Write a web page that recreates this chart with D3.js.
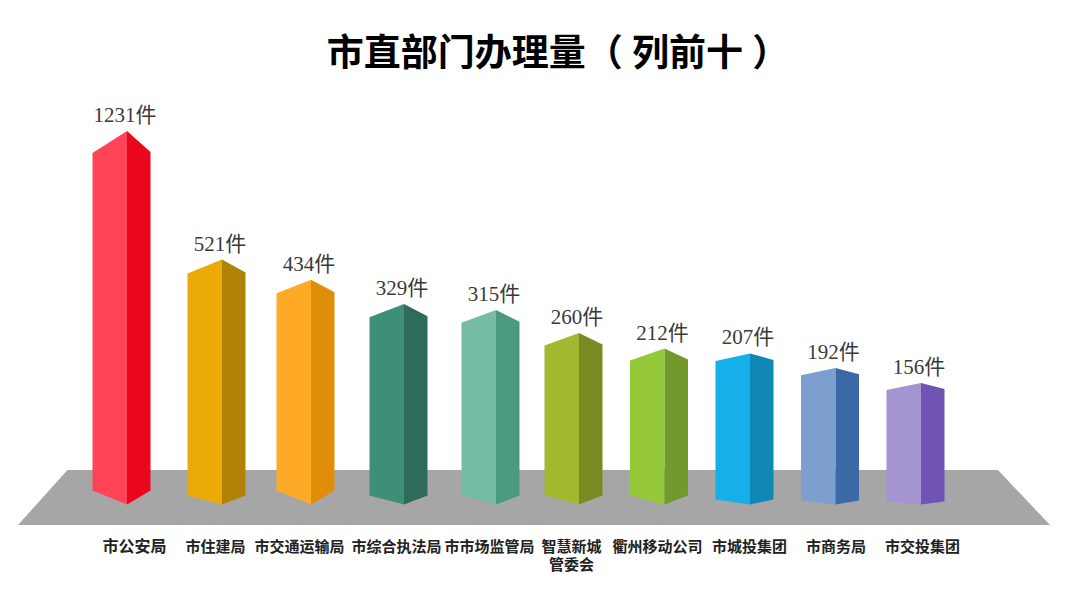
<!DOCTYPE html>
<html>
<head>
<meta charset="utf-8">
<script src="https://cdn.jsdelivr.net/npm/d3@7"></script>
<style>
    body { margin: 0; background: #fff; }
    svg { display: block; }
    text { font-family: "Liberation Serif", "Noto Sans CJK SC", serif; }
</style>
</head>
<body>
<svg width="1080" height="600"></svg>
<script>
var titleText = "市直部门办理量（ 列前十 ）";
var categories = ["市公安局", "市住建局", "市交通运输局", "市综合执法局", "市市场监管局", "智慧新城\n管委会", "衢州移动公司", "市城投集团", "市商务局", "市交投集团"];
var values = [1231, 521, 434, 329, 315, 260, 212, 207, 192, 156];
var valueUnit = "件";

var frontColors = ["#ff4458", "#ebaa07", "#ffaa26", "#3d8f78", "#75bba5", "#a3b82e", "#96c93a", "#15b0ea", "#7c9fcf", "#a494d0"];
var sideColors = ["#ea061c", "#b08205", "#e08e08", "#2e6b5a", "#4a9a82", "#7a8a22", "#71992b", "#1088b5", "#3a69a6", "#6f54b4"];

var svg = d3.select("svg");

// the original is a hand drawn infographic, bars are not proportional, so the y scale is piecewise
var y = d3.scaleLinear()
    .domain([156, 192, 212, 260, 329, 521, 1231])
    .range([383, 368, 348.5, 333, 304, 259.5, 131]);

// bar spacing is uneven too
var x = d3.scaleLinear()
    .domain([0, 1, 2, 3, 4, 5, 9])
    .range([127, 222, 311, 404, 496, 579, 921]);

var labelX = d3.scaleLinear()
    .domain([0, 1, 2, 3, 4, 5, 6, 7, 9])
    .range([134, 215, 299, 396, 489, 571, 657, 749, 922]);

// perspective of the top and bottom edges flattens to the right
var topDrop = d3.scaleLinear().domain([0, 1, 6, 7, 9]).range([22, 14, 12, 7.5, 7]);
var bottomDrop = d3.scaleLinear().domain([0, 1, 2, 3, 6, 7, 9]).range([14, 9, 14, 9, 9, 5, 3]);

var leftWidth = 34.5,
    rightWidth = 23.5,
    bottomY = 504.5;

// floor
svg.append("path")
    .attr("d", "M67.5,470L998,470L1050,525L18,525Z")
    .attr("fill", "#a6a6a6");

var bars = svg.selectAll("g.bar")
    .data(values)
    .enter().append("g")
    .attr("class", "bar");

bars.append("path")
    .attr("fill", function (d, i) { return frontColors[i]; })
    .attr("d", function (d, i) {
        var r = x(i);
        return "M" + (r - leftWidth) + "," + (y(d) + topDrop(i))
            + "L" + r + "," + y(d)
            + "L" + r + "," + bottomY
            + "L" + (r - leftWidth) + "," + (bottomY - bottomDrop(i)) + "Z";
    });

bars.append("path")
    .attr("fill", function (d, i) { return sideColors[i]; })
    .attr("d", function (d, i) {
        var r = x(i);
        return "M" + r + "," + y(d)
            + "L" + (r + rightWidth) + "," + (y(d) + topDrop(i) - 1)
            + "L" + (r + rightWidth) + "," + (bottomY - bottomDrop(i))
            + "L" + r + "," + bottomY + "Z";
    });

bars.append("text")
    .attr("x", function (d, i) { return x(i) - 2; })
    .attr("y", function (d) { return y(d) - 9; })
    .attr("text-anchor", "middle")
    .attr("font-size", 21)
    .attr("fill", "#3a3a3a")
    .text(function (d) { return d + valueUnit; });

// category labels
var axis = d3.axisBottom(labelX)
    .tickValues(d3.range(categories.length))
    .tickSize(0)
    .tickPadding(0)
    .tickFormat(function (i) { return categories[i]; });

var axisG = svg.append("g")
    .attr("transform", "translate(0,540)")
    .call(axis);

axisG.select(".domain").remove();

axisG.selectAll("text")
    .attr("fill", "#222")
    .attr("font-weight", "bold")
    .attr("font-family", '"Liberation Serif", "Noto Sans CJK SC", serif')
    .attr("font-size", function (i) { return i === 0 ? 16 : 15; })
    .each(function (i) {
        var lines = categories[i].split("\n");
        var t = d3.select(this).text(null).attr("dy", null).attr("y", 12);
        lines.forEach(function (line, n) {
            t.append("tspan")
                .attr("x", 0)
                .attr("dy", n === 0 ? 0 : 18)
                .text(line);
        });
    });

svg.append("text")
    .attr("x", 558)
    .attr("y", 66)
    .attr("text-anchor", "middle")
    .attr("font-size", 37)
    .attr("font-weight", "bold")
    .attr("fill", "#000")
    .text(titleText);
</script>
</body>
</html>
